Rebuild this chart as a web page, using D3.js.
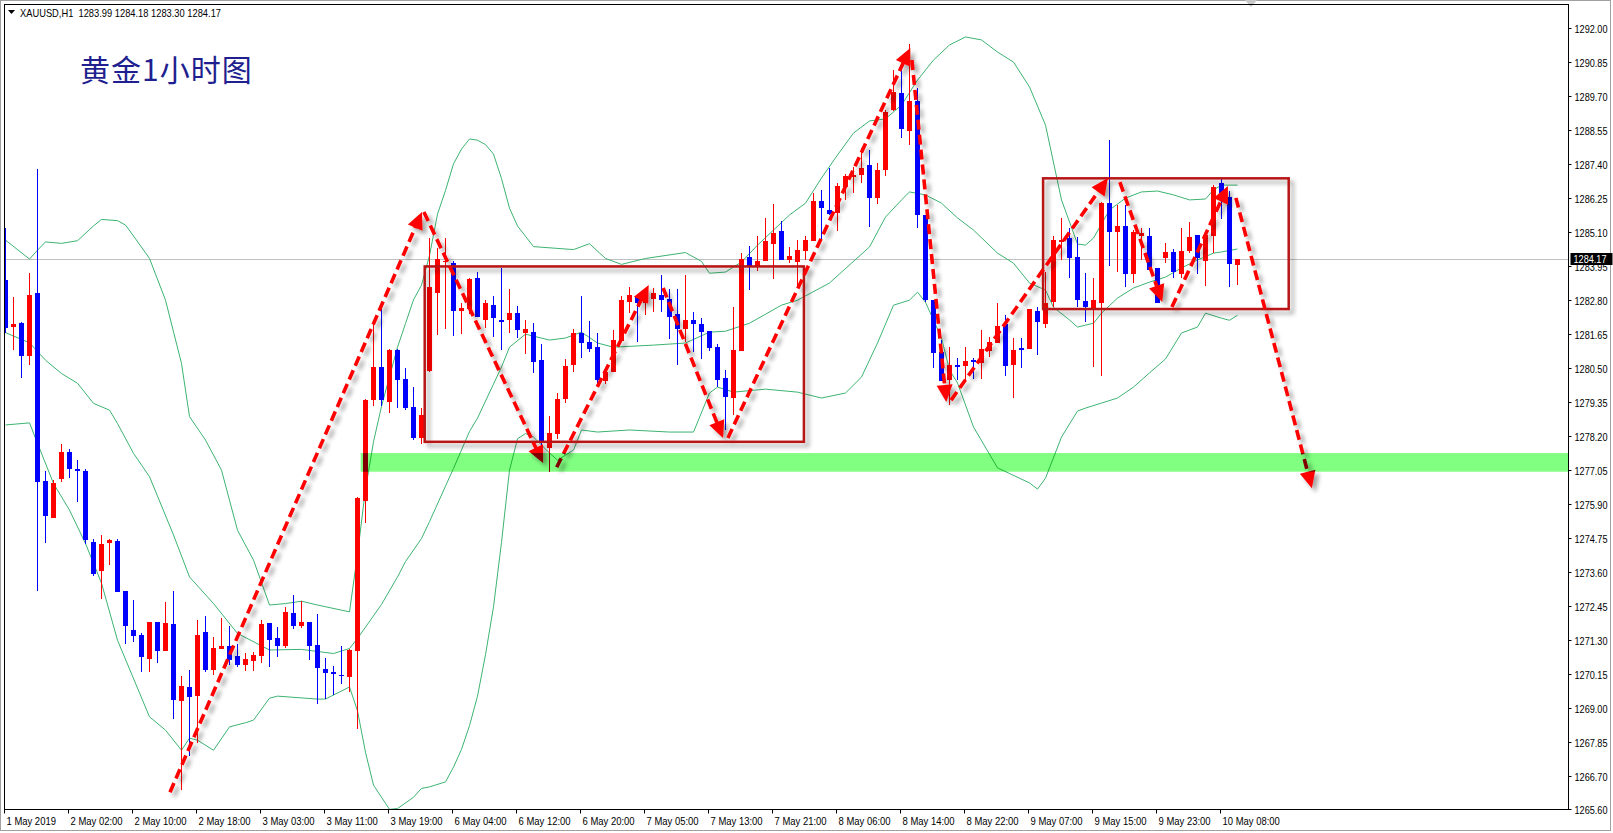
<!DOCTYPE html>
<html><head><meta charset="utf-8">
<script src="https://cdn.jsdelivr.net/npm/d3@7"></script>
<style>
html,body{margin:0;padding:0;background:#fff;overflow:hidden}
svg{display:block}
.ax{font-family:"Liberation Sans","DejaVu Sans",sans-serif;font-size:11px;fill:#000}
</style></head><body>
<svg id="c" width="1613" height="833"></svg>
<script>
// ---------------- data ----------------
const symbolLabel = "XAUUSD,H1  1283.99 1284.18 1283.30 1284.17";
const chartTitle = "黄金1小时图";
const lastPrice = 1284.17;

const opens = [1283.47,1281.87,1282.02,1280.91,1283.03,1276.67,1275.43,1276.75,1277.65,1277.07,
1277.01,1274.61,1273.64,1274.59,1274.64,1272.95,1271.63,1271.46,1270.66,1271.90,
1270.93,1271.83,1269.24,1269.70,1269.41,1271.56,1270.29,1271.00,1271.09,1270.75,
1270.46,1270.60,1270.76,1271.87,1271.36,1271.09,1272.21,1271.77,1271.90,1271.13,
1270.31,1270.21,1270.12,1270.05,1270.93,1276.01,1279.42,1280.53,1279.35,1281.10,
1280.12,1279.17,1278.14,1280.40,1283.02,1284.07,1284.03,1282.43,1282.48,1283.54,
1282.13,1282.62,1282.12,1282.13,1282.35,1281.69,1281.71,1280.77,1277.80,1278.28,
1279.46,1280.61,1281.69,1281.37,1281.20,1280.07,1280.35,1281.42,1282.74,1282.94,
1282.70,1282.84,1282.97,1282.83,1282.33,1281.82,1282.12,1281.98,1281.75,1281.20,
1280.17,1279.49,1281.08,1284.24,1283.96,1284.13,1284.69,1285.13,1284.15,1284.09,
1284.46,1284.79,1286.14,1285.84,1285.75,1286.63,1286.97,1287.02,1287.36,1286.23,
1287.19,1289.22,1289.81,1288.52,1289.53,1285.66,1282.79,1281.05,1280.09,1280.60,
1280.57,1280.77,1280.65,1281.07,1281.35,1281.98,1280.60,1281.16,1281.14,1282.42,
1282.00,1282.74,1284.77,1284.88,1284.26,1282.76,1282.53,1282.68,1286.06,1285.11,
1285.30,1283.67,1284.97,1284.96,1283.89,1284.23,1284.41,1283.67,1284.45,1284.99,
1284.12,1284.97,1286.76,1286.29,1283.99];
const highs = [1285.24,1282.91,1282.05,1283.71,1287.22,1277.01,1276.70,1277.92,1277.75,1277.38,
1277.07,1274.70,1274.84,1274.70,1274.70,1272.95,1272.65,1271.55,1271.90,1271.90,
1272.58,1272.95,1270.08,1270.28,1271.97,1272.11,1271.40,1272.04,1271.77,1271.16,
1270.85,1270.89,1271.97,1271.87,1271.73,1272.41,1272.82,1272.61,1271.90,1272.17,
1270.69,1270.41,1271.09,1271.00,1276.15,1279.45,1282.11,1282.49,1281.14,1281.14,
1280.49,1279.85,1279.14,1284.90,1284.57,1284.90,1284.10,1282.71,1283.54,1283.74,
1282.78,1282.94,1283.88,1283.18,1282.59,1282.13,1282.02,1281.31,1278.88,1279.64,
1280.81,1281.81,1282.93,1282.09,1281.69,1280.40,1281.79,1282.94,1283.24,1282.94,
1282.91,1283.19,1283.65,1283.18,1283.18,1283.65,1282.40,1282.20,1281.75,1281.31,
1280.43,1282.57,1284.37,1284.62,1284.96,1285.56,1286.04,1285.47,1284.59,1284.82,
1284.96,1286.40,1286.51,1287.26,1286.74,1287.05,1287.30,1287.95,1287.87,1287.42,
1289.22,1290.57,1290.57,1291.45,1289.95,1285.66,1282.79,1281.44,1281.22,1280.82,
1281.22,1280.82,1281.78,1281.55,1282.71,1282.29,1281.50,1281.50,1282.48,1282.57,
1283.75,1284.96,1285.58,1285.22,1284.94,1283.70,1283.53,1286.10,1288.21,1286.01,
1286.01,1285.15,1285.22,1285.22,1283.89,1284.71,1284.52,1285.24,1285.44,1284.99,
1284.99,1286.68,1286.91,1286.49,1284.18];
const lows = [1281.68,1281.10,1280.17,1280.59,1272.96,1274.59,1275.43,1276.65,1276.76,1275.97,
1274.56,1273.46,1272.67,1273.83,1272.93,1271.15,1271.24,1270.22,1270.22,1270.53,
1270.93,1268.63,1266.24,1267.38,1267.82,1270.22,1270.12,1271.00,1270.46,1270.39,
1270.26,1270.26,1270.53,1270.39,1270.73,1271.02,1271.67,1271.70,1270.62,1269.14,
1269.31,1269.44,1269.82,1269.55,1268.30,1275.26,1279.21,1279.21,1278.98,1279.15,
1279.08,1278.07,1277.92,1280.37,1281.61,1281.81,1281.59,1281.64,1282.31,1282.23,
1281.86,1281.55,1281.11,1281.69,1281.52,1280.98,1280.34,1277.83,1276.97,1278.08,
1279.30,1280.36,1280.82,1281.05,1279.96,1279.96,1280.44,1281.42,1282.34,1281.38,
1282.30,1282.40,1282.40,1281.46,1280.61,1281.38,1281.05,1280.81,1281.08,1279.87,
1278.40,1278.90,1281.08,1283.13,1283.79,1284.13,1283.49,1284.15,1284.03,1283.25,
1284.15,1284.79,1284.79,1285.67,1285.13,1286.18,1286.40,1286.74,1285.27,1286.04,
1286.99,1289.20,1288.26,1288.04,1285.22,1282.74,1280.48,1280.07,1279.24,1280.09,
1280.09,1280.14,1280.14,1280.88,1281.35,1280.22,1279.47,1280.48,1281.14,1280.93,
1281.84,1282.57,1284.15,1283.53,1282.57,1282.06,1280.54,1280.22,1283.95,1283.75,
1283.25,1283.38,1284.15,1283.81,1282.68,1284.03,1283.53,1283.53,1284.40,1283.67,
1283.27,1284.38,1285.53,1283.24,1283.30];
const closes = [1281.86,1281.98,1280.91,1282.96,1276.65,1275.50,1276.60,1277.65,1277.07,1277.01,
1274.69,1273.54,1274.54,1274.68,1272.93,1271.77,1271.44,1270.73,1271.90,1270.93,
1271.87,1269.28,1269.74,1269.38,1271.46,1270.29,1271.02,1271.09,1270.62,1270.46,
1270.65,1270.79,1271.83,1271.30,1271.10,1272.24,1271.77,1271.90,1271.09,1270.36,
1270.19,1270.16,1270.09,1270.97,1276.11,1279.42,1280.53,1279.41,1281.10,1280.09,
1279.15,1278.14,1278.90,1283.23,1284.18,1284.12,1282.43,1282.52,1283.50,1282.23,
1282.69,1282.20,1282.06,1282.35,1281.79,1281.82,1280.71,1278.00,1278.31,1279.46,
1280.56,1281.68,1281.35,1281.15,1280.10,1280.35,1281.44,1282.79,1282.97,1282.70,
1282.82,1283.04,1282.80,1282.23,1281.82,1282.12,1281.98,1281.72,1281.18,1280.10,
1279.52,1281.10,1284.18,1283.96,1284.13,1284.79,1285.06,1284.15,1284.28,1284.49,
1284.82,1286.14,1285.92,1285.71,1286.66,1287.00,1287.02,1287.27,1286.23,1287.19,
1289.16,1289.84,1288.57,1289.53,1285.66,1282.79,1280.99,1280.07,1280.60,1280.54,
1280.73,1280.71,1281.14,1281.38,1281.91,1280.56,1281.10,1281.10,1282.48,1282.04,
1282.68,1284.82,1284.82,1284.20,1282.79,1282.57,1282.79,1286.06,1285.11,1285.30,
1283.67,1285.11,1285.05,1283.81,1282.68,1284.41,1283.75,1284.45,1284.94,1284.20,
1284.99,1286.63,1286.23,1284.01,1284.17];

// Bollinger bands: [bar index, price]
const upperBand = [[0,1284.82],[3,1284.18],[4,1284.48],[5,1284.76],[7,1284.71],[9,1284.80],[11,1285.30],[12,1285.52],[14,1285.48],[15,1285.33],[16,1284.96],[18,1284.20],[20,1282.79],[22,1280.65],[23,1278.85],[25,1278.06],[27,1277.04],[29,1275.01],[31,1274.00],[33,1272.48],[35,1272.53],[37,1272.61],[39,1272.48],[43,1272.25],[44,1274.20],[45,1276.40],[46,1278.00],[47,1279.20],[48,1280.20],[49,1281.20],[50,1282.00],[51,1282.80],[52,1283.30],[53,1284.30],[54,1285.70],[55,1286.50],[56,1287.40],[57,1287.90],[58,1288.24],[59,1288.20],[60,1288.05],[61,1287.73],[62,1286.90],[63,1285.90],[64,1285.30],[66,1284.60],[71,1284.50],[73,1284.70],[75,1284.20],[77,1284.00],[80,1284.20],[85,1284.40],[87,1284.10],[88,1283.70],[90,1283.74],[92,1284.08],[94,1284.65],[96,1285.16],[98,1285.67],[100,1286.07],[102,1286.92],[104,1287.70],[106,1288.44],[108,1288.85],[110,1288.92],[112,1289.39],[114,1290.23],[116,1290.91],[118,1291.42],[120,1291.69],[122,1291.59],[124,1291.18],[126,1290.84],[128,1290.00],[130,1288.71],[132,1286.18],[134,1284.69],[135,1284.65],[136,1284.89],[138,1285.84],[140,1286.24],[142,1286.45],[144,1286.48],[146,1286.35],[148,1286.18],[150,1286.21],[151,1286.52],[152,1286.68],[154,1286.68]];
const middleBand = [[0,1281.69],[3,1281.35],[5,1280.76],[7,1280.31],[9,1279.98],[11,1279.30],[13,1279.07],[14,1278.62],[16,1277.61],[18,1276.82],[21,1274.85],[23,1273.43],[26,1272.53],[29,1271.52],[33,1270.96],[37,1270.98],[41,1270.84],[43,1271.01],[44,1271.35],[47,1272.50],[49,1273.43],[50,1273.95],[52,1274.73],[53,1275.30],[55,1276.50],[56,1277.10],[58,1278.35],[59,1278.80],[62,1280.53],[63,1281.20],[65,1281.64],[68,1281.44],[70,1281.51],[72,1281.71],[74,1281.34],[76,1281.20],[81,1281.27],[85,1281.34],[88,1281.71],[90,1281.74],[93,1282.01],[97,1282.62],[99,1282.79],[103,1283.37],[108,1284.59],[110,1285.60],[112,1286.18],[113,1286.45],[115,1286.35],[117,1286.07],[119,1285.57],[121,1285.16],[124,1284.38],[126,1284.04],[128,1283.37],[130,1283.13],[131,1282.55],[133,1282.12],[134,1281.88],[136,1282.01],[137,1282.35],[139,1282.86],[141,1283.20],[143,1283.40],[145,1283.57],[147,1283.88],[149,1284.15],[151,1284.38],[152,1284.42],[154,1284.52]];
const lowerBand = [[0,1278.57],[3,1278.64],[4,1277.95],[6,1276.59],[8,1275.69],[10,1274.56],[12,1273.22],[14,1271.29],[18,1268.70],[20,1268.25],[22,1267.57],[23,1267.98],[24,1267.91],[26,1267.57],[28,1268.36],[30,1268.50],[31,1268.59],[33,1269.33],[34,1269.40],[39,1269.30],[40,1269.30],[43,1269.71],[44,1268.90],[45,1267.50],[46,1266.39],[48,1265.57],[49,1265.60],[51,1265.98],[52,1266.28],[53,1266.33],[55,1266.50],[56,1267.00],[57,1267.60],[58,1268.40],[59,1269.40],[60,1270.80],[61,1272.42],[62,1274.60],[63,1277.04],[64,1278.10],[65,1278.28],[66,1278.16],[68,1277.62],[69,1277.38],[71,1277.72],[72,1278.40],[74,1278.33],[78,1278.40],[83,1278.33],[86,1278.33],[88,1279.65],[89,1279.85],[91,1279.68],[95,1279.78],[99,1279.68],[102,1279.48],[105,1279.65],[107,1280.19],[109,1281.34],[111,1282.62],[113,1282.79],[114,1283.06],[115,1282.72],[117,1281.51],[118,1280.43],[119,1279.99],[121,1278.50],[124,1277.12],[128,1276.61],[129,1276.40],[130,1276.77],[132,1278.16],[134,1279.04],[135,1279.14],[137,1279.31],[139,1279.48],[141,1279.85],[143,1280.33],[145,1280.80],[147,1281.68],[149,1281.88],[150,1282.35],[152,1282.18],[153,1282.11],[154,1282.28]];

const priceTicks = [1292.00,1290.85,1289.70,1288.55,1287.40,1286.25,1285.10,1283.95,1282.80,1281.65,1280.50,1279.35,1278.20,1277.05,1275.90,1274.75,1273.60,1272.45,1271.30,1270.15,1269.00,1267.85,1266.70,1265.60];
const timeTickBars = [0,8,16,24,32,40,48,56,64,72,80,88,96,104,112,120,128,136,144,152];
const timeTickLabels = ["1 May 2019","2 May 02:00","2 May 10:00","2 May 18:00","3 May 03:00","3 May 11:00","3 May 19:00","6 May 04:00","6 May 12:00","6 May 20:00","7 May 05:00","7 May 13:00","7 May 21:00","8 May 06:00","8 May 14:00","8 May 22:00","9 May 07:00","9 May 15:00","9 May 23:00","10 May 08:00"];

// annotations in (bar, price)
const boxes = [[52.4,1283.93,99.8,1278.00],[129.7,1286.91,160.4,1282.49]];
const arrows = [[20.56,1266.15,52.06,1285.77],[52.3,1285.77,67.2,1277.28],[68.9,1277.14,80.4,1283.30],[82.2,1283.20,89.7,1278.13],[90.3,1278.13,113.1,1291.32],[113.3,1290.91,117.6,1279.35],[118.2,1279.41,137.8,1286.92],[139.3,1286.78,144.6,1282.73],[145.8,1282.56,152.8,1286.65],[153.8,1286.25,163.3,1276.43]];
const supportZone = [44.4,1277.62,1276.99];

// ---------------- layout ----------------
const L = 4.5, T = 4.5, R = 1568.5, B = 809.5;
const svg = d3.select("#c");
const x = d3.scaleLinear().domain([0,195]).range([5.5,1565.5]);
const y = d3.scaleLinear().domain([1265.6,1292]).range([808.5,27.8]);

const defs = svg.append("defs");
defs.append("clipPath").attr("id","plot").append("rect").attr("x",L).attr("y",T).attr("width",R-L).attr("height",B-T);
const f = defs.append("filter").attr("id","sh").attr("x","-20%").attr("y","-20%").attr("width","140%").attr("height","140%");
f.append("feDropShadow").attr("dx",4).attr("dy",4).attr("stdDeviation",2.2).attr("flood-color","#000").attr("flood-opacity",0.35);

function squeeze(sel, k){
  sel.each(function(){
    const w = this.getComputedTextLength();
    d3.select(this).attr("textLength", (w*k).toFixed(1)).attr("lengthAdjust","spacingAndGlyphs");
  });
}

// window frame
svg.append("rect").attr("x",0).attr("y",0).attr("width",1613).attr("height",833).attr("fill","#fff");
svg.append("rect").attr("x",0.5).attr("y",0.5).attr("width",1610).attr("height",830).attr("fill","none").attr("stroke","#a0a0a0");
svg.append("path").attr("d","M1245,0 L1257,0 L1251,7 Z").attr("fill","#c8c8c8");

const plot = svg.append("g").attr("clip-path","url(#plot)");

// last price line
plot.append("line").attr("x1",L).attr("x2",R).attr("y1",Math.round(y(lastPrice))+0.5).attr("y2",Math.round(y(lastPrice))+0.5).attr("stroke","#c0c0c0");

// bands
const line = d3.line().x(d=>x(d[0])).y(d=>y(d[1]));
[upperBand,middleBand,lowerBand].forEach(b=>{
  plot.append("path").attr("d",line(b)).attr("fill","none").attr("stroke","#3cb371").attr("stroke-width",1);
});

// candles
const idx = d3.range(opens.length);
const cg = plot.append("g").attr("shape-rendering","crispEdges");
idx.forEach(i=>{
  const o=opens[i], c=closes[i], h=highs[i], l=lows[i];
  const col = c>=o ? "#ff0000" : "#0000ff";
  const xc = x(i);
  cg.append("rect").attr("x",xc-0.5).attr("y",y(h)).attr("width",1).attr("height",Math.max(1,y(l)-y(h))).attr("fill",col);
  const yt = y(Math.max(o,c)), yb = y(Math.min(o,c));
  cg.append("rect").attr("x",xc-2.5).attr("y",yt).attr("width",5).attr("height",Math.max(1,yb-yt)).attr("fill",col);
});

// annotation boxes
const ag = plot.append("g").attr("filter","url(#sh)");
boxes.forEach(b=>{
  ag.append("rect").attr("x",x(b[0])).attr("y",y(b[1])).attr("width",x(b[2])-x(b[0])).attr("height",y(b[3])-y(b[1]))
    .attr("fill","none").attr("stroke","#b81414").attr("stroke-width",2.5);
});

// arrows
arrows.forEach(a=>{
  const x1=x(a[0]), y1=y(a[1]), x2=x(a[2]), y2=y(a[3]);
  const dx=x2-x1, dy=y2-y1, len=Math.hypot(dx,dy), ux=dx/len, uy=dy/len, nx=-uy, ny=ux;
  const hl=17, hw=8;
  const bx=x2-ux*hl, by=y2-uy*hl;
  const g = ag.append("g");
  g.append("line").attr("x1",x1).attr("y1",y1).attr("x2",bx+ux*2).attr("y2",by+uy*2)
    .attr("stroke","#ff0000").attr("stroke-width",3.6).attr("stroke-dasharray","10,5");
  g.append("path").attr("d",`M${x2},${y2} L${bx+nx*hw},${by+ny*hw} L${bx-nx*hw},${by-ny*hw} Z`).attr("fill","#ff0000");
});

// support zone (multiply so marks below show through darker)
plot.append("rect").attr("x",x(supportZone[0])).attr("y",y(supportZone[1])).attr("width",R-x(supportZone[0])).attr("height",y(supportZone[2])-y(supportZone[1]))
  .attr("fill","#80ff80").style("mix-blend-mode","multiply");

// plot frame
svg.append("rect").attr("x",L).attr("y",T).attr("width",R-L).attr("height",B-T).attr("fill","none").attr("stroke","#000");

// price axis
priceTicks.forEach(p=>{
  const yy = Math.round(y(p))+0.5;
  svg.append("line").attr("x1",R).attr("x2",R+3).attr("y1",yy).attr("y2",yy).attr("stroke","#000");
  svg.append("text").attr("class","ax py").attr("x",R+6).attr("y",yy+4).text(p.toFixed(2));
});
const ly = Math.round(y(lastPrice));
svg.append("rect").attr("x",R+2).attr("y",ly-6).attr("width",42).attr("height",12).attr("fill","#000");
svg.append("text").attr("class","ax py").attr("x",R+5).attr("y",ly+4).style("fill","#fff").text(lastPrice.toFixed(2));
svg.selectAll("text.py").attr("textLength",33).attr("lengthAdjust","spacingAndGlyphs");

// time axis
timeTickBars.forEach((b,k)=>{
  const xx = Math.round(x(b)-2)+0.5;
  svg.append("line").attr("x1",xx).attr("x2",xx).attr("y1",B).attr("y2",B+4).attr("stroke","#000");
  svg.append("text").attr("class","ax tx").attr("x",xx+2).attr("y",825).text(timeTickLabels[k]);
});
squeeze(svg.selectAll("text.tx"), 0.86);

// header
svg.append("path").attr("d","M8,10 L15,10 L11.5,14 Z").attr("fill","#000");
svg.append("text").attr("class","ax").attr("x",20).attr("y",17).style("white-space","pre").attr("xml:space","preserve")
  .attr("textLength",201).attr("lengthAdjust","spacingAndGlyphs").text(symbolLabel);
svg.append("text").attr("x",80).attr("y",81).attr("font-family","'Noto Sans CJK SC','Noto Sans CJK JP',sans-serif")
  .attr("font-size",30).attr("letter-spacing",1).attr("fill","#1f1f8f").text(chartTitle);
</script>
</body></html>
